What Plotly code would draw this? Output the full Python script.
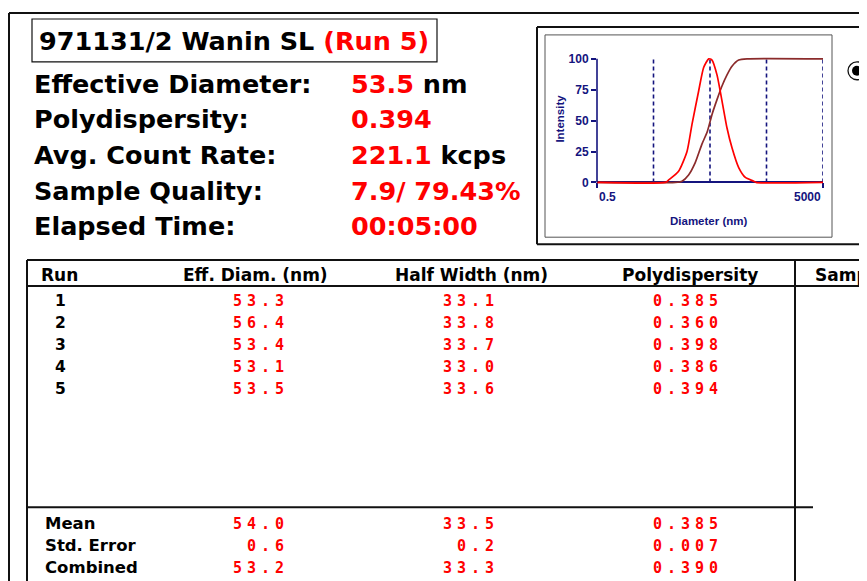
import math
import plotly.graph_objects as go

W, H = 867, 581

# ---------------- data ----------------
sample_name = "971131/2 Wanin SL"
run_label = "(Run 5)"
top_labels = ["Effective Diameter:", "Polydispersity:", "Avg. Count Rate:",
              "Sample Quality:", "Elapsed Time:"]
top_values = ["53.5", "0.394", "221.1", "7.9/ 79.43%", "00:05:00"]
top_units = [" nm", "", " kcps", "", ""]

table_headers = ["Run", "Eff. Diam. (nm)", "Half Width (nm)", "Polydispersity", "Samp"]
runs = ["1", "2", "3", "4", "5"]
eff_diam = ["53.3", "56.4", "53.4", "53.1", "53.5"]
half_width = ["33.1", "33.8", "33.7", "33.0", "33.6"]
polydisp = ["0.385", "0.360", "0.398", "0.386", "0.394"]

summary_labels = ["Mean", "Std. Error", "Combined"]
summary_diam = ["54.0", "0.6", "53.2"]
summary_half = ["33.5", "0.2", "33.3"]
summary_poly = ["0.385", "0.007", "0.390"]

# size distribution (diameter nm, intensity %)
dist_diam = [0.5, 8.1, 9.3, 13.9, 19.6, 24.0, 31.5, 38.6, 47.4, 54.3, 66.5,
             81.5, 100, 122.5, 161, 211, 296, 326, 5000]
dist_int = [0, 0, 2, 9, 25, 47, 74, 93, 100, 99, 87,
            66, 44, 28, 12, 4, 1, 0, 0]
cum_diam = [0.5, 12.2, 16.0, 20.9, 27.4, 36.0, 44.7, 54.3, 66.5, 81.5,
            100, 122.5, 161, 226, 5000]
cum_int = [0, 0, 1, 6, 16, 31, 41, 55, 67, 78, 87, 94, 99, 100, 100]
grid_diam = [5, 50, 500, 5000]
y_ticks = [0, 25, 50, 75, 100]
x_tick_labels = ["0.5", "5000"]

# ---------------- helpers ----------------
NAVY = "#14147e"
RED = "#ff0000"
DARK = "#111111"

# page placement of the figure (observed): offset and vertical scale
OX, OY, SY = 8, 12, 0.988


def X(s):
    return (s - OX) / W


def Y(s):
    return 1 - ((s - OY) / SY) / H


annotations = []
shapes = []


def ann(text, x, y, size, color="black", family="DejaVu Sans", xanchor="left",
        weight="bold", **kw):
    d = dict(text=text, x=X(x), y=Y(y), xref="paper", yref="paper",
             showarrow=False, xanchor=xanchor, yanchor="middle",
             borderpad=0,
             font=dict(family=family, size=size, color=color, weight=weight))
    d.update(kw)
    annotations.append(d)


def line(x0, y0, x1, y1, w=2, color=DARK):
    shapes.append(dict(type="line", xref="paper", yref="paper",
                       x0=X(x0), y0=Y(y0), x1=X(x1), y1=Y(y1),
                       line=dict(color=color, width=w)))


def rect(x0, y0, x1, y1, w=1, color=DARK, fill=None):
    shapes.append(dict(type="rect", xref="paper", yref="paper",
                       x0=X(x0), y0=Y(y0), x1=X(x1), y1=Y(y1),
                       line=dict(color=color, width=w),
                       fillcolor=fill if fill else "rgba(0,0,0,0)"))


def spaced(s):
    return '<span style="letter-spacing:5px">' + s + '</span>'


# ---------------- frame ----------------
line(9, 13, 875, 13, 2)
line(9, 13, 9, 600, 2)

# title box
rect(32, 19, 437, 62, 1.2)
ann(sample_name + ' <span style="color:#ff0000">' + run_label + '</span>',
    38, 41, 25.5)

row_y0, row_dy = 84, 35.8
for i, (lab, val, unit) in enumerate(zip(top_labels, top_values, top_units)):
    y = row_y0 + i * row_dy
    ann(lab, 33, y, 25.5)
    ann('<span style="color:#ff0000">' + val + '</span>' + unit, 350, y, 25.5)

# ---------------- inset box ----------------
line(537, 27, 875, 27, 2)
line(537, 27, 537, 245, 2)
line(537, 245, 875, 245, 2)
rect(545, 35, 832, 238, 1, "#555555")

# radio button
shapes.append(dict(type="circle", xref="paper", yref="paper",
                   x0=X(848), x1=X(866), y0=Y(62), y1=Y(80),
                   line=dict(color=DARK, width=1.3), fillcolor="white"))
shapes.append(dict(type="circle", xref="paper", yref="paper",
                   x0=X(852), x1=X(862), y0=Y(66), y1=Y(76),
                   line=dict(color="black", width=0), fillcolor="black"))

# ---------------- table ----------------
line(27, 261, 875, 261, 2)
line(27, 287, 875, 287, 2)
line(27, 261, 27, 600, 2)
line(795, 261, 795, 600, 2)
line(27, 509, 813, 509, 2)

hdr_y = 276
ann(table_headers[0], 40, hdr_y, 17)
ann(table_headers[1], 255, hdr_y, 17, xanchor="center")
ann(table_headers[2], 471, hdr_y, 17, xanchor="center")
ann(table_headers[3], 690, hdr_y, 17, xanchor="center")
ann(table_headers[4], 814, hdr_y, 17)

VAL_FONT = "DejaVu Sans Mono"
col_right = [290, 500, 724]
r0, rdy = 302.5, 22
for i in range(len(runs)):
    y = r0 + i * rdy
    ann(runs[i], 60, y, 15.5, xanchor="center")
    for cx, vals in zip(col_right, [eff_diam, half_width, polydisp]):
        ann(spaced(vals[i]), cx, y, 15, RED, VAL_FONT, xanchor="right")

s0 = 525.5
for i in range(len(summary_labels)):
    y = s0 + i * rdy
    ann(summary_labels[i], 44, y, 16.5)
    for cx, vals in zip(col_right, [summary_diam, summary_half, summary_poly]):
        ann(spaced(vals[i]), cx, y, 15, RED, VAL_FONT, xanchor="right")

# ---------------- inset chart ----------------
fig = go.Figure()
for g in grid_diam:
    fig.add_trace(go.Scatter(x=[g, g], y=[0, 100], mode="lines",
                             line=dict(color=NAVY, width=1.6, dash="4px,3px"),
                             hoverinfo="skip", showlegend=False))
fig.add_trace(go.Scatter(x=cum_diam, y=cum_int, mode="lines",
                         line=dict(color="#8b2b2b", width=1.7, shape="spline", smoothing=0.6),
                         showlegend=False))
fig.add_trace(go.Scatter(x=dist_diam, y=dist_int, mode="lines",
                         line=dict(color=RED, width=1.7, shape="spline", smoothing=0.6),
                         showlegend=False))

# y axis line
shapes.append(dict(type="line", xref="x domain", yref="y", x0=0, x1=0, y0=0, y1=100,
                   line=dict(color=NAVY, width=1.6)))

# screen pixels of y=0 and y=100 in the inset
S0, S100 = 183, 59
y_lo, y_hi = -2, 102
unit = (S0 - S100) / 100.0
dom_bottom = Y(S0 - y_lo * unit)
dom_top = Y(S100 - (y_hi - 100) * unit)

tick_font = dict(family="Liberation Sans", size=12, color=NAVY, weight="bold")
annotations.append(dict(text=x_tick_labels[0], xref="x domain", x=0, yref="paper", y=Y(198),
                        xanchor="left", yanchor="middle", showarrow=False, font=tick_font))
annotations.append(dict(text=x_tick_labels[1], xref="x domain", x=1, yref="paper", y=Y(198),
                        xanchor="right", yanchor="middle", showarrow=False, font=tick_font))
ann("Intensity", 560, 119, 11.5, NAVY, "Liberation Sans", xanchor="center",
    weight="bold", textangle=-90)
ann("Diameter (nm)", 708, 222, 11.5, NAVY, "Liberation Sans", xanchor="center",
    weight="bold")

fig.update_layout(
    width=W, height=H,
    margin=dict(l=0, r=0, t=0, b=0),
    paper_bgcolor="white", plot_bgcolor="rgba(0,0,0,0)",
    xaxis=dict(type="log", range=[math.log10(0.5), math.log10(5000)],
               domain=[X(597), X(823)], anchor="free", position=Y(S0),
               showline=True, linecolor=NAVY, linewidth=1.6,
               ticks="outside", tickvals=[0.5, 5000], ticklen=5, tickcolor=NAVY,
               tickwidth=1.6, showticklabels=False, showgrid=False, zeroline=False,
               layer="below traces", fixedrange=True),
    yaxis=dict(range=[y_lo, y_hi], domain=[dom_bottom, dom_top], anchor="x",
               showline=False, ticks="outside", tickvals=y_ticks, ticklen=5,
               tickcolor=NAVY, tickwidth=1.6, showgrid=False, zeroline=False,
               tickfont=tick_font, fixedrange=True),
    annotations=annotations,
    shapes=shapes,
    showlegend=False,
)

fig.write_html("out.html")
